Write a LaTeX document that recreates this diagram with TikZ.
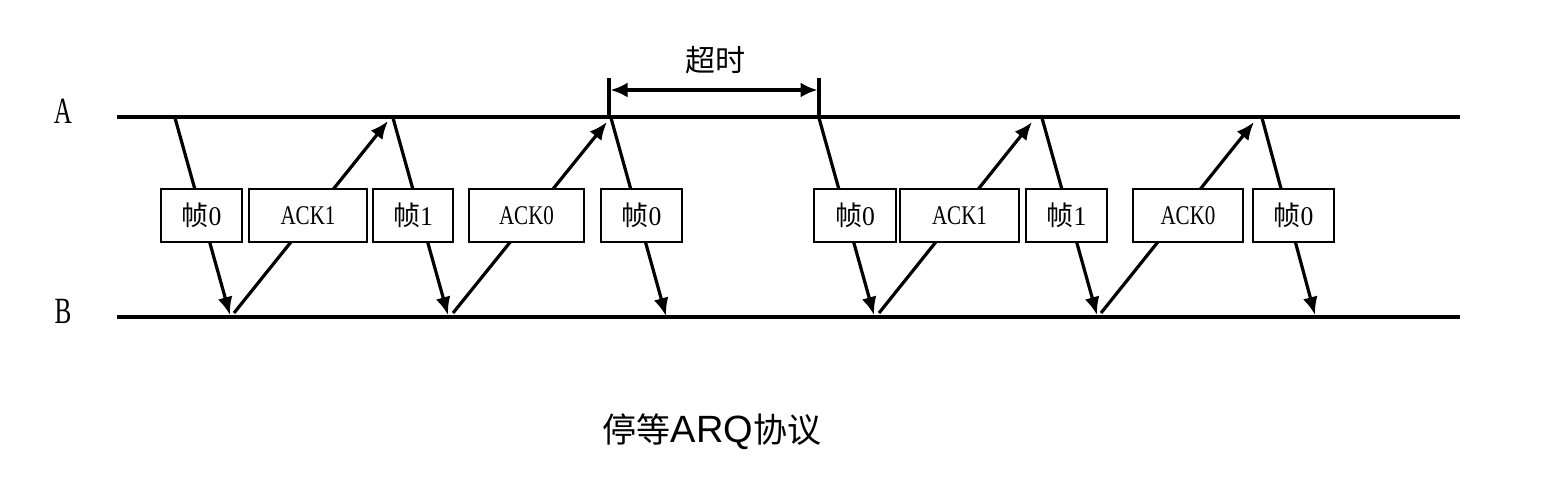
\documentclass[tikz,border=0pt]{standalone}
\usepackage{fontspec}
\setmainfont{Liberation Serif}
\newfontfamily\cjk{Noto Sans CJK SC}
\newfontfamily\capsans{Liberation Sans}
\usetikzlibrary{arrows.meta}
\newcommand{\narrow}[1]{\scalebox{0.78}[1]{#1}}
\newcommand{\digit}[1]{\scalebox{0.95}[1]{#1}}
\begin{document}
\begin{tikzpicture}[x=1pt,y=-1pt,
  timeline/.style={line width=4pt},
  msg/.style={line width=3.2pt,-{Latex[length=18pt,width=15pt]}},
  pkt/.style={draw,line width=2.2pt,fill=white,minimum height=53pt,inner sep=0pt,
    font=\fontsize{27}{27}\selectfont},
  endlabel/.style={inner sep=0pt,font=\fontsize{37}{37}\selectfont},
  tick/.style={line width=3.2pt},
  span/.style={line width=3.2pt,{Latex[length=17pt,width=15pt]}-{Latex[length=17pt,width=15pt]}}
]
\useasboundingbox (0,0) rectangle (1554,485);

% end labels
\node[endlabel] (lA) at (63,111) {\scalebox{0.68}[1]{A}};
\node[endlabel] (lB) at (63,311) {\scalebox{0.68}[1]{B}};

% time lines
\coordinate (A0) at (117,117);
\coordinate (A1) at (1460,117);
\coordinate (B0) at (117,317);
\coordinate (B1) at (1460,317);
\draw[timeline] (A0) -- (A1);
\draw[timeline] (B0) -- (B1);

% message endpoints
\coordinate (f1s) at (175,118);  \coordinate (f1e) at (230,315);
\coordinate (a1s) at (234,313);  \coordinate (a1e) at (388,121);
\coordinate (f2s) at (393,118);  \coordinate (f2e) at (448,315);
\coordinate (a2s) at (453,313);  \coordinate (a2e) at (607,122);
\coordinate (f3s) at (611,118);  \coordinate (f3e) at (666,316);
\coordinate (f4s) at (819,118);  \coordinate (f4e) at (874,315);
\coordinate (a3s) at (879,313);  \coordinate (a3e) at (1032,122);
\coordinate (f5s) at (1042,118); \coordinate (f5e) at (1097,315);
\coordinate (a4s) at (1101,313); \coordinate (a4e) at (1254,122);
\coordinate (f6s) at (1262,118); \coordinate (f6e) at (1315,315);

\foreach \s/\e in {f1s/f1e,a1s/a1e,f2s/f2e,a2s/a2e,f3s/f3e,f4s/f4e,a3s/a3e,f5s/f5e,a4s/a4e,f6s/f6e}
  \draw[msg] (\s) -- (\e);

% packet boxes
\node[pkt,minimum width=81pt]  (b1)  at (201.5,215.5) {{\cjk 帧}\digit{0}};
\node[pkt,minimum width=118pt] (b2)  at (308,215.5)   {\narrow{ACK1}};
\node[pkt,minimum width=80pt]  (b3)  at (413,215.5)   {{\cjk 帧}\digit{1}};
\node[pkt,minimum width=115pt] (b4)  at (526.5,215.5) {\narrow{ACK0}};
\node[pkt,minimum width=81pt]  (b5)  at (641.5,215.5) {{\cjk 帧}\digit{0}};
\node[pkt,minimum width=82pt]  (b6)  at (855,215.5)   {{\cjk 帧}\digit{0}};
\node[pkt,minimum width=119pt] (b7)  at (959.5,215.5) {\narrow{ACK1}};
\node[pkt,minimum width=81pt]  (b8)  at (1066.5,215.5){{\cjk 帧}\digit{1}};
\node[pkt,minimum width=110pt] (b9)  at (1188,215.5)  {\narrow{ACK0}};
\node[pkt,minimum width=81pt]  (b10) at (1293.5,215.5){{\cjk 帧}\digit{0}};

% timeout
\coordinate (t1top) at (609,78);  \coordinate (t1bot) at (609,117);
\coordinate (t2top) at (819,78);  \coordinate (t2bot) at (819,117);
\draw[tick] (t1top) -- (t1bot);
\draw[tick] (t2top) -- (t2bot);
\coordinate (s1) at (610.5,90);
\coordinate (s2) at (817.5,90);
\draw[span] (s1) -- (s2);
\node[inner sep=0pt,font=\cjk\fontsize{30}{30}\selectfont] (to) at (715,60) {超时};

% caption
\node[inner sep=0pt] (cap) at (712,432)
  {{\cjk\fontsize{34}{34}\selectfont 停等}{\capsans\fontsize{38}{38}\selectfont ARQ}{\cjk\fontsize{34}{34}\selectfont 协议}};
\end{tikzpicture}
\end{document}
